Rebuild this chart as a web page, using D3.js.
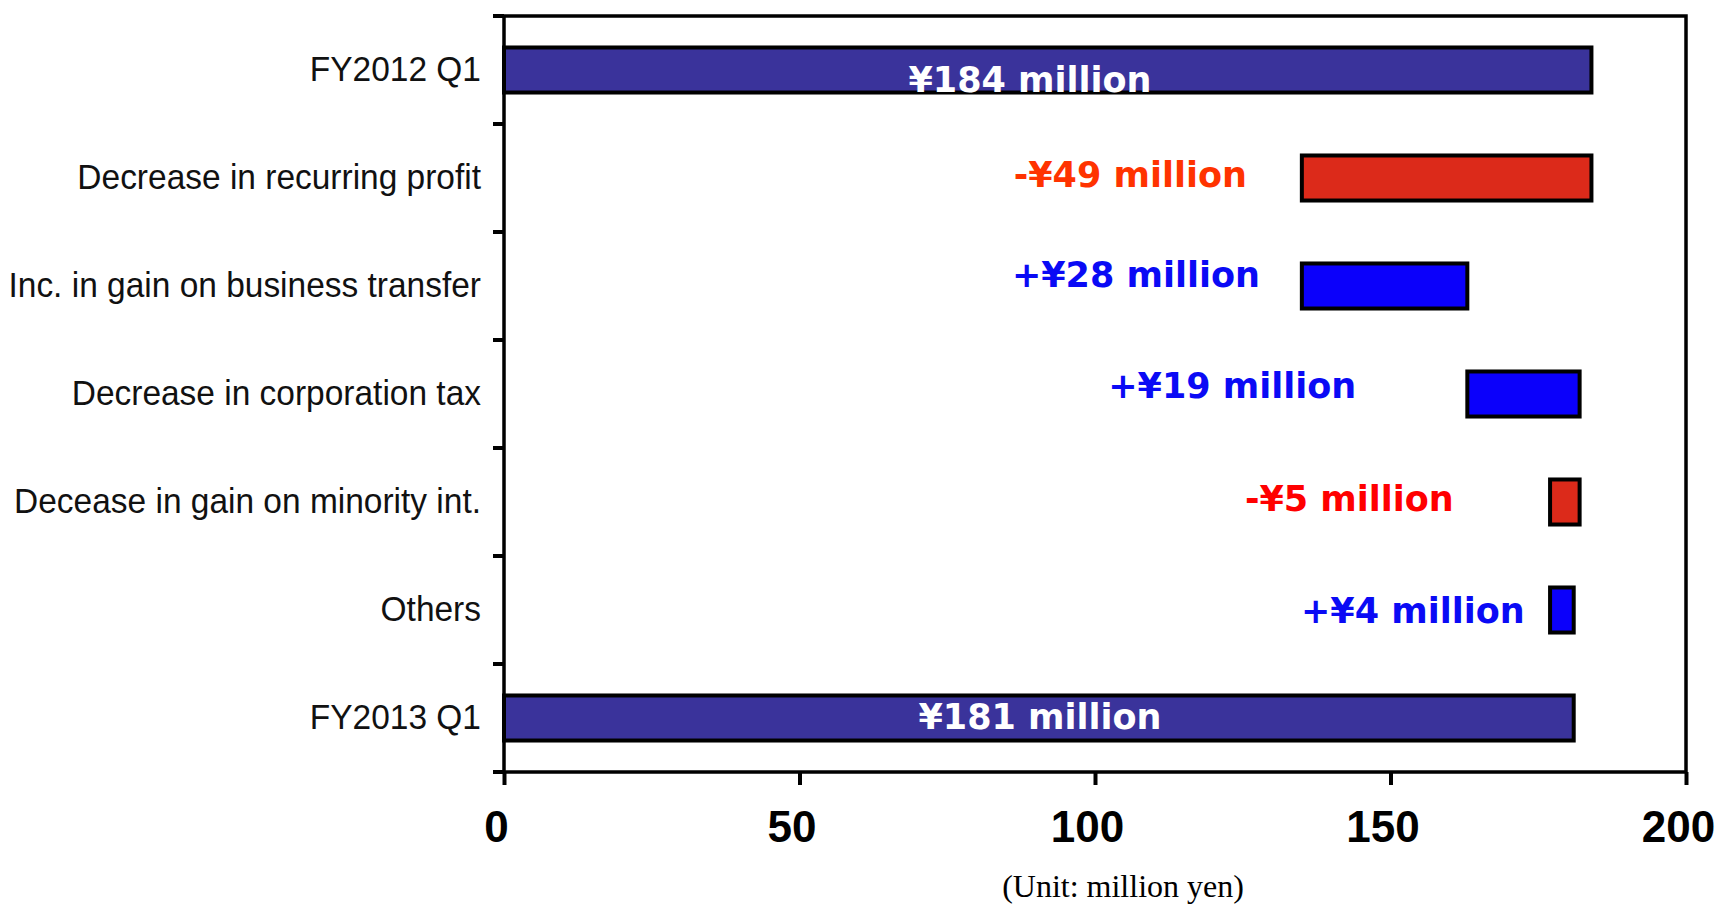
<!DOCTYPE html>
<html><head><meta charset="utf-8">
<script src="https://cdn.jsdelivr.net/npm/d3@7"></script>
<style>body{margin:0;background:#fff;} svg{display:block}</style>
</head><body><svg id="chart" width="1718" height="905"></svg>
<script>
// ---- data ----
const categories = ["FY2012 Q1","Decrease in recurring profit","Inc. in gain on business transfer","Decrease in corporation tax","Decease in gain on minority int.","Others","FY2013 Q1"];
const changes = [184, -49, 28, 19, -5, 4, 181];
const kinds = ["total","decrease","increase","increase","decrease","increase","total"];
const valueLabels = ["¥184 million","-¥49 million","+¥28 million","+¥19 million","-¥5 million","+¥4 million","¥181 million"];
const xTicks = [0, 50, 100, 150, 200];
const unitLabel = "(Unit: million yen)";

// ---- layout (annotation anchors in axis units, offsets in px) ----
const labelAnchorValue = [89, 125.7, 127.9, 144.2, 160.7, 172.7, 90.7];
const labelAnchorSide = ["middle","end","end","end","end","end","middle"];
const labelDy = [22, 9, 1, 4, 9, 13, 11];
const labelColor = ["#ffffff","#ff3300","#0a0af5","#0a0af5","#ff0000","#0a0af5","#ffffff"];
const barFill = {total:"#3a339b", decrease:"#dc2a1a", increase:"#0b00fb"};

// running totals
let running = 0;
const rows = categories.map((c, i) => {
  let start, end;
  if (kinds[i] === "total") { start = 0; end = changes[i]; running = changes[i]; }
  else { start = running; end = running + changes[i]; running = end; }
  return {cat: c, start: Math.min(start, end), end: Math.max(start, end), i};
});

const svg = d3.select("#chart");
const x = d3.scaleLinear().domain([0, 200]).range([504, 1686]);
const y = d3.scaleBand().domain(categories).range([16, 772]).paddingInner(0.583).paddingOuter(0.2915);
const step = y.step(), bw = y.bandwidth();

// bars
svg.append("g").selectAll("rect").data(rows).join("rect")
  .attr("x", d => x(d.start))
  .attr("y", d => y(d.cat))
  .attr("width", d => x(d.end) - x(d.start))
  .attr("height", bw)
  .attr("fill", d => barFill[kinds[d.i]])
  .attr("stroke", "#000")
  .attr("stroke-width", 4);

// value labels
svg.append("g").selectAll("text").data(rows).join("text")
  .attr("x", d => x(labelAnchorValue[d.i]))
  .attr("y", d => y(d.cat) + bw / 2 + labelDy[d.i])
  .attr("text-anchor", d => labelAnchorSide[d.i])
  .attr("fill", d => labelColor[d.i])
  .style("font-family", "'DejaVu Sans', sans-serif")
  .style("font-weight", "bold")
  .style("font-size", "35px")
  .text(d => valueLabels[d.i]);

// frame
svg.append("rect")
  .attr("x", x(0)).attr("y", 16)
  .attr("width", x(200) - x(0)).attr("height", 772 - 16)
  .attr("fill", "none").attr("stroke", "#000").attr("stroke-width", 3.5);

// category boundary ticks on y axis
const bounds = categories.map(c => y(c) - (step - bw) / 2).concat([y(categories[categories.length - 1]) + bw + (step - bw) / 2]);
svg.append("g").selectAll("line").data(bounds).join("line")
  .attr("x1", x(0) - 11).attr("x2", x(0))
  .attr("y1", d => d).attr("y2", d => d)
  .attr("stroke", "#000").attr("stroke-width", 4);

// y axis labels
const yAxis = svg.append("g").attr("transform", `translate(${x(0)},0)`)
  .call(d3.axisLeft(y).tickSize(0));
yAxis.select(".domain").remove();
yAxis.selectAll("text")
  .attr("x", null).attr("dy", null)
  .attr("transform", "translate(-23,11) scale(0.93,1)")
  .attr("text-anchor", "end")
  .attr("fill", "#111")
  .style("font-family", "'Liberation Sans', Arial, sans-serif")
  .style("font-size", "36px");

// x axis
const xAxis = svg.append("g").attr("transform", "translate(0,772)")
  .call(d3.axisBottom(x).tickValues(xTicks).tickSize(13).tickFormat(d3.format("d")));
xAxis.select(".domain").remove();
xAxis.selectAll(".tick line").attr("stroke", "#000").attr("stroke-width", 4);
xAxis.selectAll("text")
  .attr("y", 70).attr("dy", null).attr("dx", -8)
  .attr("fill", "#000")
  .style("font-family", "'Liberation Sans', Arial, sans-serif")
  .style("font-weight", "bold")
  .style("font-size", "44px");

// unit label
svg.append("text")
  .attr("x", 1123).attr("y", 897)
  .attr("text-anchor", "middle")
  .style("font-family", "'Liberation Serif', 'Times New Roman', serif")
  .style("font-size", "32px")
  .attr("fill", "#000")
  .text(unitLabel);
</script>
</body></html>
